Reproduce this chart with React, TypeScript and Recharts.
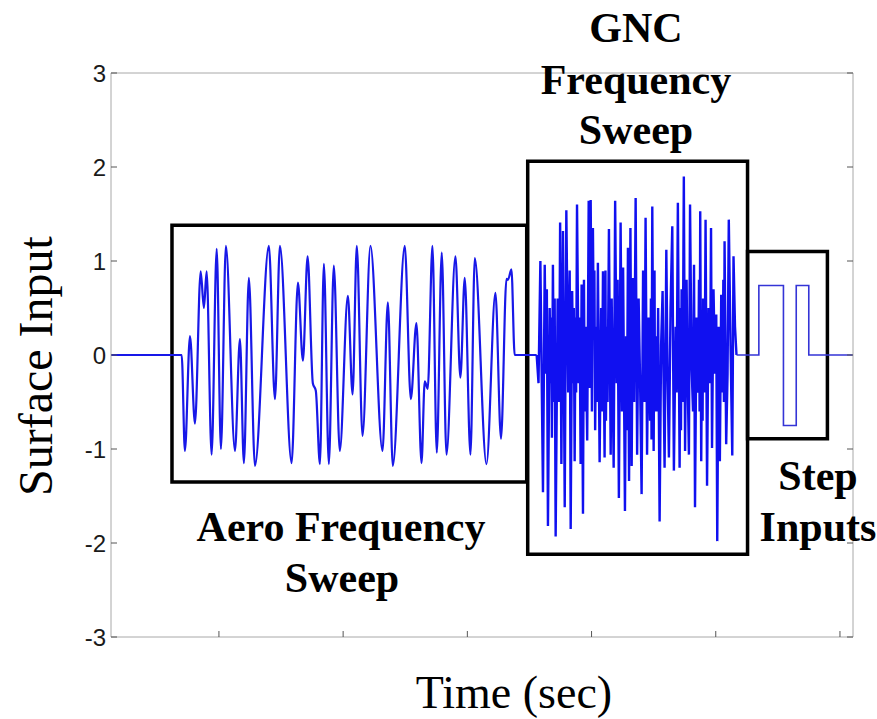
import { LineChart, Line, XAxis, YAxis, ReferenceArea } from "recharts";

// time in seconds, surface input (normalised)
const aeroTime = [
  1.31, 7.0, 7.26, 7.67, 8.07, 8.53, 8.79, 9.01, 9.41, 9.82, 10.16, 10.56, 11.29, 11.69, 12.01, 12.41, 12.9,
  14.02, 14.51, 14.91, 15.85, 16.36, 16.76, 17.14, 17.56, 17.8, 18.13, 18.45, 18.85, 19.25, 19.73, 20.38,
  20.76, 21.1, 21.56, 22.2, 23.17, 23.6, 24.0, 24.96, 25.45, 25.9, 26.31, 26.57, 26.81, 27.19, 27.54, 27.94,
  28.32, 29.04, 29.44, 29.79, 30.25, 30.6, 31.54, 32.26, 32.71, 33.15, 33.27, 33.55, 33.81, 35.58,
];
const aeroValue = [
  0, 0, -1.02, 0.2, -0.73, 0.89, 0.5, 0.89, -1.06, 1.13, -1.0, 1.16, -1.02, 0.17, -1.15, 0.82, -1.18,
  1.16, -0.47, 1.16, -1.15, 0.77, -0.06, 1.05, -0.3, -0.38, -1.16, 0.97, -1.16, 0.95, -1.02, 0.63,
  -0.42, 1.16, -0.86, 1.16, -1.02, 0.56, -1.18, 1.16, -0.47, 0.34, -1.15, -0.28, -0.36, 1.16, -1.04, 1.09,
  -1.06, 1.05, -0.24, 0.82, -1.06, 1.03, -1.16, 0.66, -0.89, 0.81, 0.8, 0.91, 0, 0,
];

const gncTime = [
  35.58, 35.73, 35.88, 36.09, 36.23, 36.33, 36.4, 36.49, 36.63, 36.7, 36.75, 36.81, 36.89, 36.97, 37.03,
  37.11, 37.27, 37.39, 37.47, 37.57, 37.7, 37.84, 37.97, 38.12, 38.24, 38.32, 38.44, 38.52, 38.57,
  38.64, 38.71, 38.76, 38.83, 38.96, 39.04, 39.12, 39.2, 39.31, 39.39, 39.45, 39.52, 39.65, 39.77,
  39.85, 39.93, 40.03, 40.11, 40.18, 40.23, 40.29, 40.37, 40.43, 40.51, 40.65, 40.77, 40.84, 40.92,
  41.05, 41.12, 41.16, 41.21, 41.29, 41.4, 41.54, 41.62, 41.78, 41.9, 42.02, 42.1,
  42.2, 42.34, 42.45, 42.54, 42.69, 42.78, 42.85, 42.93, 43.02, 43.13, 43.23,
  43.33, 43.43, 43.55, 43.67, 43.79, 43.91, 44.03, 44.15, 44.27, 44.35,
  44.47, 44.59, 44.71, 44.78, 44.83, 44.89, 45.0, 45.07, 45.11, 45.16, 45.28, 45.36, 45.48, 45.6,
  45.72, 45.8, 45.88, 46.02, 46.12, 46.23, 46.36, 46.5, 46.63, 46.77,
  46.85, 46.95, 47.09, 47.16, 47.2, 47.25, 47.33, 47.43, 47.53, 47.65, 47.73, 47.84,
  47.93, 48.05, 48.17, 48.25, 48.33, 48.45, 48.58, 48.65, 48.7, 48.75, 48.83, 48.9, 48.94, 48.98,
  49.1, 49.18, 49.3, 49.42, 49.54, 49.62, 49.7, 49.82, 49.94, 50.04,
  50.12, 50.23, 50.33, 50.44, 50.55, 50.61, 50.66, 50.71, 50.84, 50.95, 51.05, 51.19,
  51.33, 51.43, 51.55, 51.67,
];
const gncValue = [
  0, -0.3, 1.0, -1.46, 0.96, -0.2, 0.7, -1.82, 0.5, -0.3, 0.4, -0.88, 0.96, -0.5, 0.6,
  -1.93, 0.6, -0.5, 1.41, -1.16, 1.32, -1.62, 1.54, -0.4, 0.9, -1.85, 0.68, -0.3, 0.5,
  -1.13, 0.4, -0.4, 1.6, -0.3, 0.4, -1.16, 0.75, -1.69, 0.8, -0.6, 0.3, -0.91, 1.64,
  -0.35, 1.65, -0.6, 1.35, 0.2, 0.9, -0.8, 0.3, -0.5, 0.98, -1.14, 0.5, -0.6, 0.89,
  -1.09, 0.9, -0.7, 0.3, -0.5, 1.34, -1.06, 0.6, -1.2, 1.64, -0.3, 0.8,
  -1.52, 1.41, -0.6, 0.93, -1.66, 0.2, -0.8, 1.14, -1.34, 1.35, -1.18,
  0.82, -0.5, 1.67, -1.06, 0.6, -0.3, -1.48, 0.9, -0.5, 1.46,
  -1.06, 0.4, -0.7, 0.6, -0.9, 1.58, -1.02, 0.9, -0.6, 0.2, -0.6, 0.5, -1.77, 0.1,
  0.68, -0.3, -1.2, 1.12, -0.2, -1.09, 0.5, 1.37, -1.23, 0.3,
  -0.4, 1.62, -1.2, 0.5, -0.8, 0.7, -0.5, 1.9, -1.02, 0.8, -0.2, -1.06,
  1.6, -0.1, -0.6, 0.96, -1.62, 0.4, -0.4, 0.8, -0.6, 1.53, -1.13, 0.4, -0.7, 0.6,
  -0.4, 1.44, -1.39, 0.5, -0.3, 1.35, -0.99, 0.7, -0.2, 0.43,
  -1.98, 0.3, -1.13, 0.64, -0.4, 0.8, -0.5, 1.21, -0.95, -0.2, 1.44, 0.1,
  -1.07, 1.05, 0.3, 0,
];

const stepTime = [51.67, 53.47, 55.45, 56.48, 57.49, 61.05];
const stepValue = [0, 0.74, -0.75, 0.74, 0, 0];

const xTicks = [10, 20, 30, 40, 50, 60];
const yTicks = [-3, -2, -1, 0, 1, 2, 3];

// annotation boxes (data coords)
const boxes = [
  { x1: 6.22, x2: 34.78, y1: -1.35, y2: 1.38 },
  { x1: 34.86, x2: 52.56, y1: -2.12, y2: 2.06 },
  { x1: 52.56, x2: 58.99, y1: -0.89, y2: 1.1 },
];

const zip = (t: number[], v: number[]) => t.map((time, i) => ({ time, value: v[i] }));

const aeroData = zip(aeroTime, aeroValue);
const gncData = zip(gncTime, gncValue);
const stepData = zip(stepTime, stepValue);

const X_DOMAIN: [number, number] = [1.31, 61.05];
const noLabel = () => <g />;
const bold = { fontFamily: "Liberation Serif", fontWeight: 700, fontSize: 42 };
const axisGrey = "#a8a8a8";

export default function App() {
  return (
    <div style={{ position: "absolute", left: 0, top: 0, width: 877, height: 719, background: "#fff" }}>
      <LineChart width={877} height={719} margin={{ top: 72, right: 23, bottom: 52, left: 51 }}>
        <XAxis
          dataKey="time"
          type="number"
          domain={X_DOMAIN}
          ticks={xTicks}
          tick={noLabel}
          tickSize={-6}
          height={30}
          stroke={axisGrey}
          tickLine={{ stroke: "#555" }}
          allowDataOverflow
        />
        <XAxis
          xAxisId="top"
          orientation="top"
          type="number"
          domain={X_DOMAIN}
          ticks={xTicks}
          tick={noLabel}
          tickSize={-6}
          height={1}
          stroke={axisGrey}
          tickLine={{ stroke: "#555" }}
          allowDataOverflow
        />
        <YAxis
          type="number"
          domain={[-3, 3]}
          ticks={yTicks}
          tickSize={-6}
          tickMargin={11}
          width={60}
          stroke={axisGrey}
          tickLine={{ stroke: "#555" }}
          tick={{ fill: "#1a1a1a", fontSize: 24, fontFamily: "Liberation Sans" }}
          allowDataOverflow
        />
        <YAxis
          yAxisId="right"
          orientation="right"
          type="number"
          domain={[-3, 3]}
          ticks={yTicks}
          tick={noLabel}
          tickSize={-6}
          width={1}
          stroke={axisGrey}
          tickLine={{ stroke: "#555" }}
          allowDataOverflow
        />
        {boxes.map((b, i) => (
          <ReferenceArea
            key={i}
            x1={b.x1}
            x2={b.x2}
            y1={b.y1}
            y2={b.y2}
            fill="none"
            fillOpacity={0}
            stroke="#000"
            strokeWidth={3.5}
            ifOverflow="visible"
          />
        ))}
        <Line data={aeroData} dataKey="value" type="monotone" stroke="#1818e8" strokeWidth={2.2} dot={false} isAnimationActive={false} />
        <Line data={gncData} dataKey="value" type="linear" stroke="#1010f0" strokeWidth={2.4} dot={false} isAnimationActive={false} />
        <Line data={stepData} dataKey="value" type="stepAfter" stroke="#3434d6" strokeWidth={1.6} dot={false} isAnimationActive={false} />
      </LineChart>
      <svg width={877} height={719} style={{ position: "absolute", left: 0, top: 0, pointerEvents: "none" }}>
        <text x={52} y={366} transform="rotate(-90 52 366)" textAnchor="middle" fontFamily="Liberation Serif" fontSize={48}>
          Surface Input
        </text>
        <text x={514} y={708} textAnchor="middle" fontFamily="Liberation Serif" fontSize={46}>
          Time (sec)
        </text>
        <text x={636} y={42} textAnchor="middle" {...bold}>GNC</text>
        <text x={636} y={94} textAnchor="middle" {...bold}>Frequency</text>
        <text x={636} y={144} textAnchor="middle" {...bold}>Sweep</text>
        <text x={341} y={541} textAnchor="middle" {...bold}>Aero Frequency</text>
        <text x={342} y={592} textAnchor="middle" {...bold}>Sweep</text>
        <text x={818} y={490} textAnchor="middle" {...bold}>Step</text>
        <text x={818} y={541} textAnchor="middle" {...bold}>Inputs</text>
      </svg>
    </div>
  );
}
